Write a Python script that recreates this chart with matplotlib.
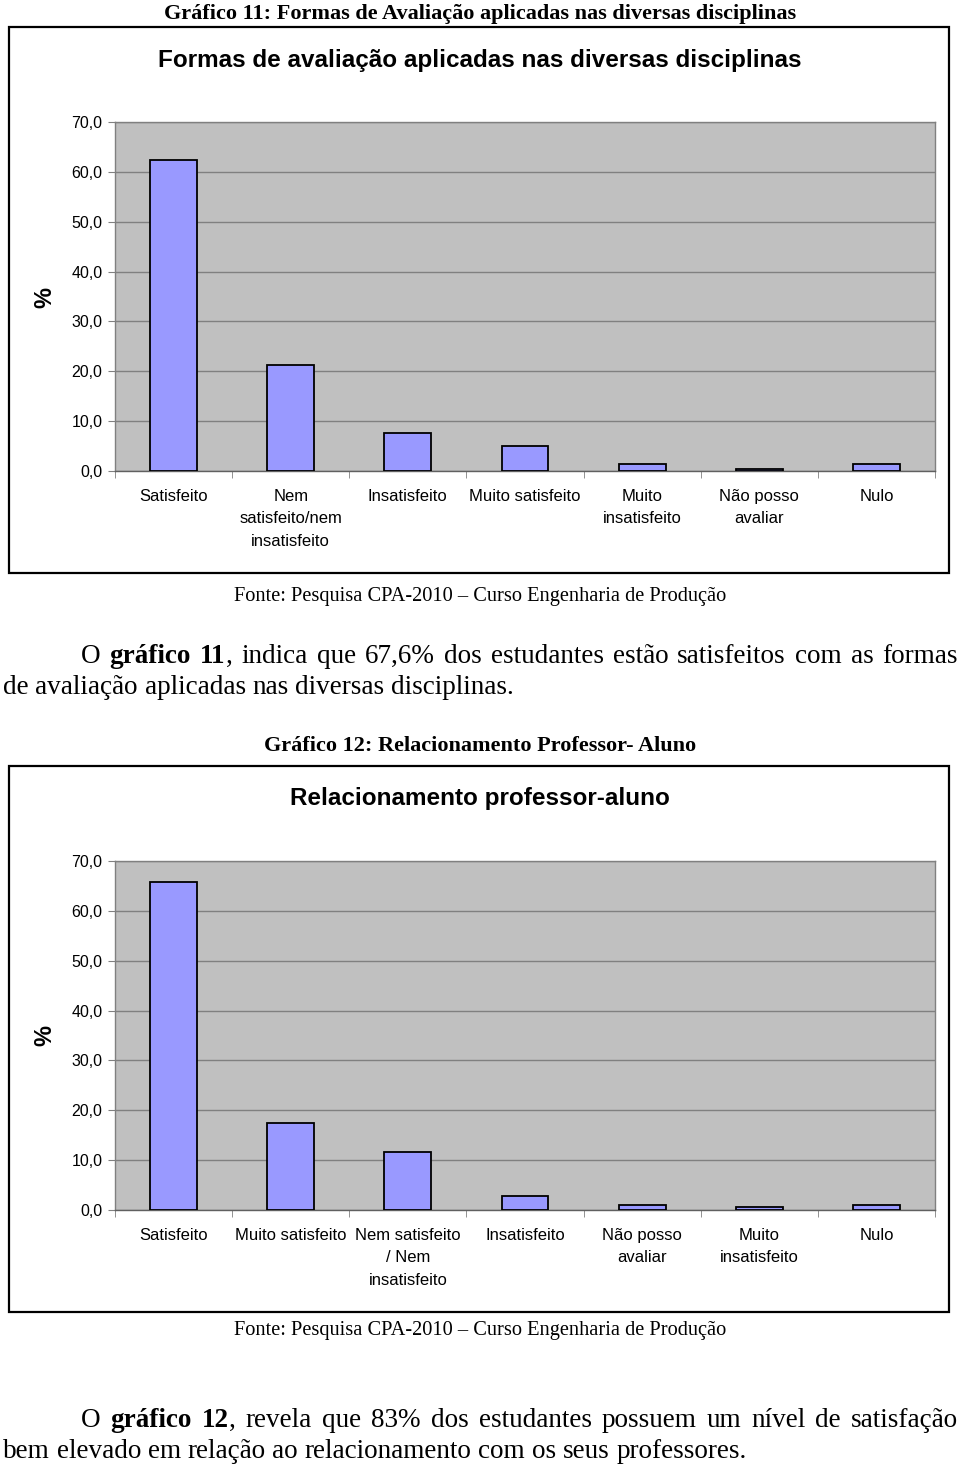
import matplotlib
matplotlib.use("Agg")
import matplotlib.pyplot as plt
from matplotlib.patches import Rectangle

# dados do gráfico 11
cats_11 = ["Satisfeito", "Nem\nsatisfeito/nem\ninsatisfeito", "Insatisfeito",
           "Muito satisfeito", "Muito\ninsatisfeito", "Não posso\navaliar", "Nulo"]
vals_11 = [62.3, 21.2, 7.6, 5.1, 1.5, 0.5, 1.5]

# dados do gráfico 12
cats_12 = ["Satisfeito", "Muito satisfeito", "Nem satisfeito\n/ Nem\ninsatisfeito",
           "Insatisfeito", "Não posso\navaliar", "Muito\ninsatisfeito", "Nulo"]
vals_12 = [65.8, 17.4, 11.6, 2.8, 1.0, 0.6, 1.0]

y_ticks = [0, 10, 20, 30, 40, 50, 60, 70]

W, H = 960, 1466
SERIF = "Liberation Serif"
SANS = "Liberation Sans"

fig = plt.figure(figsize=(W / 100, H / 100), dpi=100)
fig.patch.set_facecolor("white")


def fx(x):
    return x / W


def fy(y):
    return 1 - y / H


def bar_chart(top, cats, vals, title, box_top, box_bottom):
    # moldura do gráfico
    fig.patches.append(Rectangle((fx(9), fy(box_bottom)), fx(940), (box_bottom - box_top) / H,
                                 transform=fig.transFigure, fill=False,
                                 edgecolor="black", linewidth=1.6))
    fig.text(fx(480), fy(box_top + 33), title, ha="center", va="center",
             fontsize=17.5, fontweight="bold", family=SANS)
    ax = fig.add_axes([fx(115), fy(top + 349), fx(820), 349 / H])
    ax.set_facecolor("#C0C0C0")
    x = range(len(vals))
    ax.bar(x, vals, width=0.4, color="#9999FF", edgecolor="black", linewidth=1.3, zorder=3)
    ax.set_ylim(0, 70)
    ax.set_xlim(-0.5, len(vals) - 0.5)
    ax.set_yticks(y_ticks)
    ax.set_yticklabels([f"{v:.1f}".replace(".", ",") for v in y_ticks], family=SANS, fontsize=11.5)
    ax.yaxis.grid(True, color="#808080", linewidth=1.0, zorder=1)
    ax.set_axisbelow(True)
    ax.set_xticks(list(x))
    ax.set_xticklabels(cats, family=SANS, fontsize=12, linespacing=1.62, va="top")
    ax.tick_params(axis="x", which="major", length=0, pad=13)
    ax.set_xticks([i - 0.5 for i in range(len(vals) + 1)], minor=True)
    ax.tick_params(axis="x", which="minor", length=5, color="#808080")
    ax.tick_params(axis="y", length=5, color="#808080", pad=4)
    for s in ax.spines.values():
        s.set_color("#808080")
        s.set_linewidth(1.0)
    ax.spines["bottom"].set_color("#606060")
    fig.text(fx(45), fy(top + 175), "%", rotation=90, ha="center", va="center",
             fontsize=17, fontweight="bold", family=SANS)
    return ax


def justified(y, words, x0, x1, size, justify=True):
    # escreve uma linha de texto, distribuindo as palavras entre x0 e x1
    r = fig.canvas.get_renderer()
    items = []
    for w, bold in words:
        t = fig.text(fx(x0), fy(y), w, fontsize=size, family=SERIF,
                     fontweight="bold" if bold else "normal", va="baseline")
        items.append(t)
    widths = [t.get_window_extent(r).width for t in items]
    space = fig.text(0, 0, "a a", fontsize=size, family=SERIF)
    sp = space.get_window_extent(r).width
    space.set_text("aa")
    sp -= space.get_window_extent(r).width
    space.remove()
    joins = [i for i in range(1, len(words)) if not words[i][0].startswith(",")]
    if justify and joins:
        gap = (x1 - x0 - sum(widths)) / len(joins)
    else:
        gap = sp
    xpos = x0
    for i, t in enumerate(items):
        if i > 0 and not words[i][0].startswith(","):
            xpos += gap
        t.set_x(fx(xpos))
        xpos += widths[i]


def split(text, bold_words=()):
    out = []
    for w in text.split(" "):
        out.append((w, w in bold_words))
    return out


PAR = 19.5

# gráfico 11
fig.text(fx(480), fy(14), "Gráfico 11: Formas de Avaliação aplicadas nas diversas disciplinas",
         ha="center", va="center", fontsize=16, fontweight="bold", family=SERIF)
bar_chart(122, cats_11, vals_11, "Formas de avaliação aplicadas nas diversas disciplinas", 27, 573)
fig.text(fx(480), fy(597), "Fonte: Pesquisa CPA-2010 – Curso Engenharia de Produção",
         ha="center", va="center", fontsize=14.7, family=SERIF)

justified(663, [("O", False), ("gráfico", True), ("11", True), (",", False), ("indica", False),
                ("que", False), ("67,6%", False), ("dos", False), ("estudantes", False),
                ("estão", False), ("satisfeitos", False), ("com", False), ("as", False),
                ("formas", False)], 81, 958, PAR)
justified(694, split("de avaliação aplicadas nas diversas disciplinas."), 3, 958, PAR, justify=False)

# gráfico 12
fig.text(fx(480), fy(746), "Gráfico 12: Relacionamento Professor- Aluno",
         ha="center", va="center", fontsize=16, fontweight="bold", family=SERIF)
bar_chart(861, cats_12, vals_12, "Relacionamento professor-aluno", 766, 1312)
fig.text(fx(480), fy(1330), "Fonte: Pesquisa CPA-2010 – Curso Engenharia de Produção",
         ha="center", va="center", fontsize=14.7, family=SERIF)

justified(1427, [("O", False), ("gráfico", True), ("12", True), (",", False), ("revela", False),
                 ("que", False), ("83%", False), ("dos", False), ("estudantes", False),
                 ("possuem", False), ("um", False), ("nível", False), ("de", False),
                 ("satisfação", False)], 81, 958, PAR)
justified(1458, split("bem elevado em relação ao relacionamento com os seus professores."),
          3, 958, PAR, justify=False)

fig.savefig("out.png", dpi=100)
